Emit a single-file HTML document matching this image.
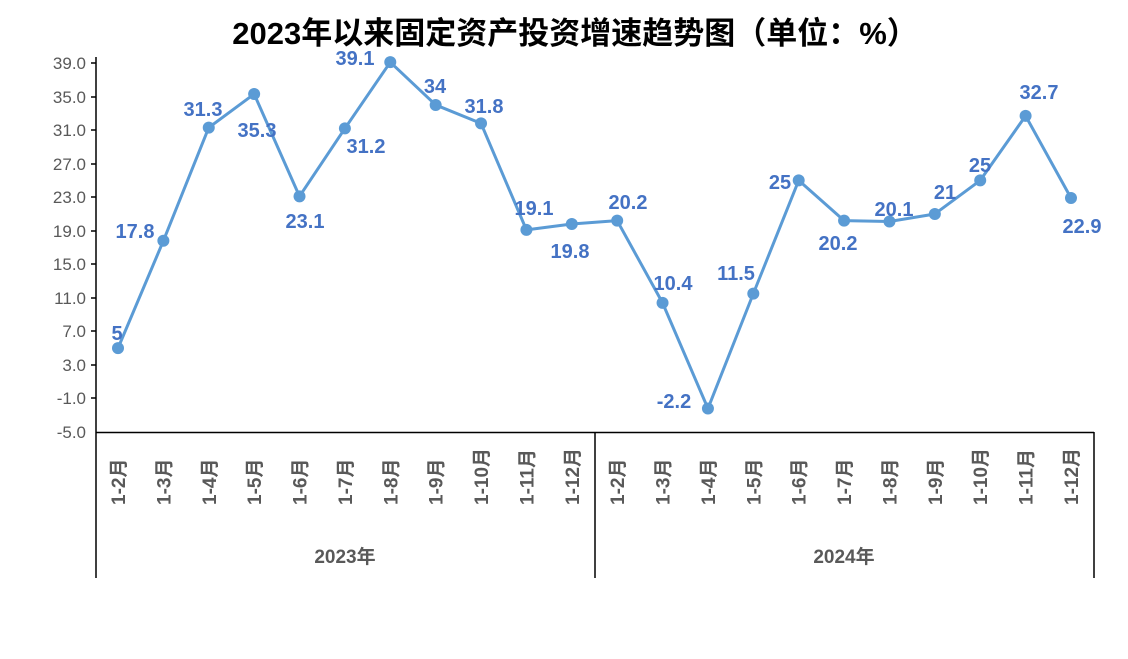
<!DOCTYPE html>
<html><head><meta charset="utf-8"><style>
body{margin:0;background:#fff;}
svg{display:block;}
</style></head><body>
<svg width="1128" height="659" xmlns="http://www.w3.org/2000/svg" font-family="'Liberation Sans','Noto Sans CJK SC',sans-serif">
<text x="575" y="44" text-anchor="middle" font-size="31" font-weight="bold" fill="#000">2023年以来固定资产投资增速趋势图（单位：%）</text>
<g font-size="17" fill="#595959" text-anchor="end">
<text x="86" y="69">39.0</text><text x="86" y="103">35.0</text><text x="86" y="136">31.0</text><text x="86" y="170">27.0</text><text x="86" y="203">23.0</text><text x="86" y="237">19.0</text><text x="86" y="270">15.0</text><text x="86" y="304">11.0</text><text x="86" y="337">7.0</text><text x="86" y="371">3.0</text><text x="86" y="404">-1.0</text><text x="86" y="438">-5.0</text>
</g>
<g stroke="#000" stroke-width="1.5">
<line x1="96" y1="57" x2="96" y2="578"/>
<line x1="96" y1="432.5" x2="1094" y2="432.5"/>
<line x1="595" y1="432" x2="595" y2="578"/>
<line x1="1094" y1="432" x2="1094" y2="578"/>
<line x1="91" y1="63" x2="96" y2="63"/><line x1="91" y1="97" x2="96" y2="97"/><line x1="91" y1="130" x2="96" y2="130"/><line x1="91" y1="164" x2="96" y2="164"/><line x1="91" y1="197" x2="96" y2="197"/><line x1="91" y1="231" x2="96" y2="231"/><line x1="91" y1="264" x2="96" y2="264"/><line x1="91" y1="298" x2="96" y2="298"/><line x1="91" y1="331" x2="96" y2="331"/><line x1="91" y1="365" x2="96" y2="365"/><line x1="91" y1="398" x2="96" y2="398"/>
</g>
<g id="xl" font-size="19" font-weight="bold" fill="#595959"></g>
<text x="345" y="563" text-anchor="middle" font-size="19" font-weight="bold" fill="#595959">2023年</text>
<text x="844" y="563" text-anchor="middle" font-size="19" font-weight="bold" fill="#595959">2024年</text>
<polyline id="pl" fill="none" stroke="#5B9BD5" stroke-width="3" stroke-linejoin="round"/>
<g id="mk" fill="#5B9BD5"></g>
<g id="lb" font-size="20" font-weight="bold" fill="#4472C4" text-anchor="middle"></g>
<script>
var v=[5,17.8,31.3,35.3,23.1,31.2,39.1,34,31.8,19.1,19.8,20.2,10.4,-2.2,11.5,25,20.2,20.1,21,25,32.7,22.9];
var L=[[117,340],[135,238],[203,116],[257,137],[305,228],[366,153],[355,65],[435,93],[484,113],[534,215],[570,258],[628,209],[673,290],[674,408],[736,280],[780,189],[838,250],[894,216],[945,199],[980,172],[1039,99],[1082,233]];
var ns="http://www.w3.org/2000/svg",pts=[];
var mo=["1-2月","1-3月","1-4月","1-5月","1-6月","1-7月","1-8月","1-9月","1-10月","1-11月","1-12月"];
for(var i=0;i<22;i++){
 var x=118+45.38*i,y=432-(v[i]+5)*8.386;pts.push(x+","+y);
 var c=document.createElementNS(ns,"circle");c.setAttribute("cx",x);c.setAttribute("cy",y);c.setAttribute("r",6);document.getElementById("mk").appendChild(c);
 var t=document.createElementNS(ns,"text");t.setAttribute("x",L[i][0]);t.setAttribute("y",L[i][1]);t.textContent=String(v[i]);document.getElementById("lb").appendChild(t);
 var s=document.createElementNS(ns,"text");s.setAttribute("transform","translate("+(x+7)+",505) rotate(-90)");s.textContent=mo[i%11];document.getElementById("xl").appendChild(s);
}
document.getElementById("pl").setAttribute("points",pts.join(" "));
</script>
</svg>
</body></html>
